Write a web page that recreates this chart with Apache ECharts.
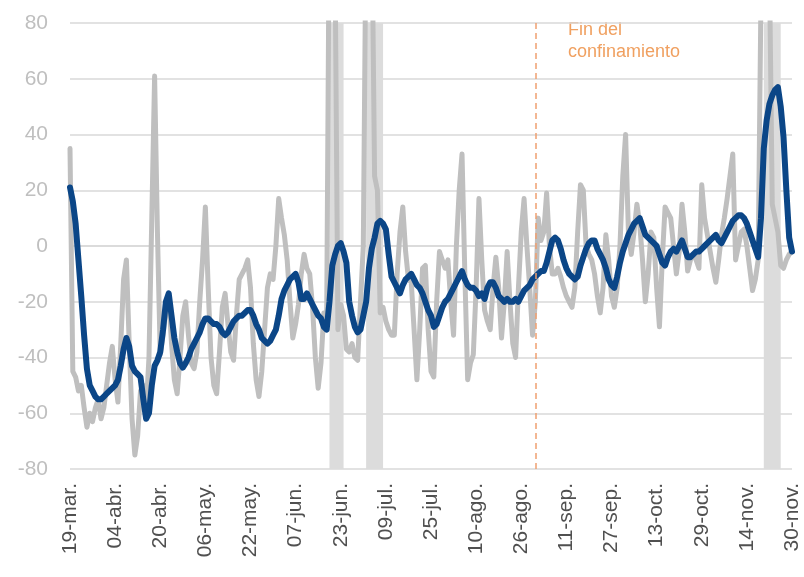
<!DOCTYPE html>
<html>
<head>
<meta charset="utf-8">
<script src="https://cdn.jsdelivr.net/npm/echarts@6/dist/echarts.min.js"></script>
<style>
html,body{margin:0;padding:0;background:#fff;}
#chart{width:804px;height:577px;}
</style>
</head>
<body>
<div id="chart"></div>
<script>
// Categories: daily dates from 19-mar to 30-nov (labels in Spanish)
const monthNames = ['ene','feb','mar','abr','may','jun','jul','ago','sep','oct','nov','dic'];
const firstDay = {year: 2020, month: 2, day: 19};
const dayCount = 257;
const categories = [];
for (let i = 0; i < dayCount; i++) {
  const d = new Date(firstDay.year, firstDay.month, firstDay.day + i);
  categories.push(String(d.getDate()).padStart(2, '0') + '-' + monthNames[d.getMonth()] + '.');
}

// Daily series (gray)
const dailyValues = [
  35,-45,-47,-52,-50,-58,-65,-60,-63,-58,
  -55,-62,-58,-50,-42,-36,-48,-56,-35,-12,
  -5,-35,-62,-75,-68,-52,-50,-59,-40,10,
  61,5,-39,-32,-22,-18,-35,-48,-53,-40,
  -25,-20,-32,-42,-44,-38,-20,-5,14,-15,
  -40,-50,-53,-38,-22,-17,-28,-38,-41,-25,
  -12,-10,-8,-5,-15,-35,-48,-54,-45,-30,
  -15,-10,-12,0,17,10,4,-5,-20,-33,
  -28,-21,-10,-3,-8,-10,-22,-40,-51,-42,
  -24,-28,130,130,100,-30,-21,-25,-37,-38,
  -35,-40,-41,-20,0,120,130,120,25,20,
  -24,-22,-27,-30,-32,-32,-10,5,14,-2,
  -12,-13,-30,-48,-30,-8,-7,-30,-45,-47,
  -20,-2,-5,-8,-5,-20,-32,0,20,33,
  -10,-48,-42,-39,-15,17,-5,-23,-27,-30,
  -15,-4,-15,-33,-20,-2,-20,-35,-40,-15,
  5,17,0,-15,-32,-20,10,2,5,19,
  0,-10,-10,-8,-11,-15,-18,-20,-22,-15,
  5,22,20,0,-3,-5,-10,-18,-24,-15,
  4,-5,-18,-22,-15,0,25,40,5,-3,
  5,15,8,-5,-20,-10,5,3,-15,-29,
  -5,14,12,10,0,-10,-2,15,5,-9,
  -5,-3,-5,-8,22,10,4,-2,-8,-13,
  -5,4,10,17,25,33,-5,0,5,6,
  0,-8,-16,-12,-5,90,150,150,100,15,
  10,5,-7,-8,-5,-3,-2
];

// Smoothed series (blue)
const averageValues = [
  21,16,8,-5,-18,-32,-44,-50,-52,-54,
  -55,-55,-54,-53,-52,-51,-50,-48,-43,-37,
  -33,-36,-43,-45,-46,-47,-55,-62,-60,-50,
  -43,-41,-38,-30,-20,-17,-25,-33,-38,-42,
  -43.6,-42,-40,-37,-35,-33,-31,-28,-26,-26,
  -27,-28,-28,-29,-31,-32,-31,-29,-27,-26,
  -25,-25,-24,-23,-23,-25,-28,-30,-33,-34,
  -35,-34,-32,-30,-25,-19,-16,-14,-12,-11,
  -10,-13,-19,-19,-17,-19,-21,-23,-25,-26,
  -29,-30,-20,-7,-3,0,1,-2,-6,-20,
  -25,-29,-31,-30,-25,-20,-8,-1,3,8,
  9,8,6,-3,-11,-13,-15,-17,-14,-12,
  -11,-10,-12,-14,-15,-17,-20,-23,-25,-29,
  -28,-25,-22,-20,-19,-17,-15,-13,-11,-9,
  -12,-14,-15,-15,-16,-18,-17,-19,-15,-13,
  -13,-15,-18,-19,-20,-19,-20,-20,-19,-20,
  -18,-16,-15,-14,-12,-11,-10,-9,-9,-6,
  -2,2,3,2,-1,-5,-8,-10,-11,-12,
  -11,-7,-4,-1,1,2,2,-1,-3,-5,
  -8,-12,-14,-15,-11,-6,-2,1,4,6,
  8,9,10,7,4,3,2,1,0,-3,
  -6,-7,-4,-2,-1,-2,0,2,-1,-4,
  -4,-3,-2,-2,-1,0,1,2,3,4,
  2,1,3,5,7,9,10,11,11,10,
  8,5,2,-1,-4,10,35,45,51,54,
  56,57,50,39,20,3,-2
];

// Shaded periods (light gray bands)
const bandStarts = ['19-jun.', '02-jul.', '20-nov.'];
const bandEnds = ['24-jun.', '08-jul.', '26-nov.'];

// End of lockdown marker
const lockdownEnd = '31-ago.';
const lockdownText = 'Fin del\nconfinamiento';

// Axis ticks
const yMin = -80, yMax = 80, yStep = 20;

const chart = echarts.init(document.getElementById('chart'));
chart.setOption({
  animation: false,
  backgroundColor: '#ffffff',
  grid: {left: 70, right: 12, top: 23, bottom: 108, containLabel: false},
  xAxis: {
    type: 'category',
    data: categories,
    boundaryGap: false,
    axisLine: {show: true, lineStyle: {color: '#d9d9d9', width: 1.5}},
    axisTick: {show: false},
    axisLabel: {
      interval: 15,
      rotate: 90,
      margin: 14,
      color: '#505050',
      fontSize: 21,
      fontFamily: 'Liberation Sans, Arial, sans-serif'
    },
    splitLine: {show: false}
  },
  yAxis: {
    type: 'value',
    min: yMin, max: yMax, interval: yStep,
    axisLine: {show: false},
    axisTick: {show: false},
    axisLabel: {
      margin: 22,
      color: '#bfbfbf',
      fontSize: 21,
      fontFamily: 'Liberation Sans, Arial, sans-serif'
    },
    splitLine: {show: true, lineStyle: {color: '#d9d9d9', width: 1.5}}
  },
  series: [
    {
      name: 'bands',
      type: 'line',
      data: [],
      z: 1,
      silent: true,
      markArea: {
        silent: true,
        itemStyle: {color: '#dcdcdc'},
        data: bandStarts.map((s, i) => [{xAxis: s}, {xAxis: bandEnds[i]}])
      }
    },
    {
      name: 'diario',
      type: 'line',
      data: dailyValues,
      z: 2,
      symbol: 'none',
      lineStyle: {color: '#bfbfbf', width: 5, join: 'round', cap: 'round'},
      markLine: {
        silent: true,
        symbol: 'none',
        label: {show: false},
        lineStyle: {color: '#f0a070', type: [6, 4], width: 1.5},
        data: [{xAxis: lockdownEnd}]
      }
    },
    {
      name: 'media',
      type: 'line',
      data: averageValues,
      z: 3,
      symbol: 'none',
      lineStyle: {color: '#0b4687', width: 6, join: 'round', cap: 'round'}
    }
  ],
  graphic: [
    {
      type: 'text',
      left: 568,
      top: 19,
      style: {
        text: lockdownText,
        fill: '#f0a060',
        font: '18px "Liberation Sans", Arial, sans-serif',
        lineHeight: 22
      }
    }
  ]
});
</script>
</body>
</html>
